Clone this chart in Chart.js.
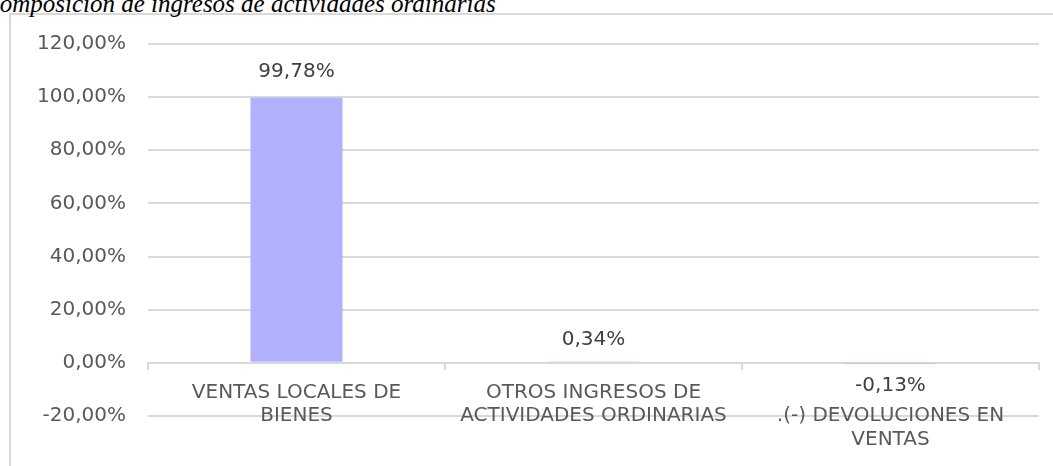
<!DOCTYPE html>
<html>
<head>
<meta charset="utf-8">
<script src="https://cdn.jsdelivr.net/npm/chart.js@4"></script>
<style>
    html, body {
        margin: 0;
        padding: 0;
        background: #ffffff;
        overflow: hidden;
    }
    #frame {
        position: absolute;
        left: 9px;
        top: 13px;
        width: 1100px;
        height: 500px;
        border: 2px solid #d9d9d9;
    }
    #title {
        position: absolute;
        left: -17px;
        top: -11px;
        font-family: 'Liberation Serif', serif;
        font-style: italic;
        font-size: 25px;
        line-height: 30px;
        color: #000000;
        white-space: nowrap;
    }
    #wrap {
        position: absolute;
        left: 0;
        top: 0;
        width: 1053px;
        height: 466px;
    }
</style>
</head>
<body>
<div id="frame"></div>
<div id="title">Composición de ingresos de actividades ordinarias</div>
<div id="wrap"><canvas id="chart"></canvas></div>
<script>
// Chart data
const categories = [
    ['VENTAS LOCALES DE', 'BIENES'],
    ['OTROS INGRESOS DE', 'ACTIVIDADES ORDINARIAS'],
    ['', '.(-) DEVOLUCIONES EN', 'VENTAS']
];
const shares = [99.78, 0.34, -0.13];

// Y axis range (percent)
const Y_MIN = -20;
const Y_MAX = 120;
const Y_STEP = 20;

const BAR_COLOR = '#b1b1ff';
const GRID_COLOR = '#d9d9d9';
const FONT = 'DejaVu Sans';

/**
 * Format a number as Spanish percent, e.g. 99,78%
 */
function pct(v) {
    return v.toFixed(2).replace('.', ',') + '%';
}

/**
 * Draw value labels above / below each bar
 */
const valueLabels = {
    id: 'valueLabels',
    afterDatasetsDraw(chart) {
        const ctx = chart.ctx;
        const meta = chart.getDatasetMeta(0);
        ctx.save();
        ctx.font = `20px "${FONT}"`;
        ctx.fillStyle = '#404040';
        ctx.textAlign = 'center';
        meta.data.forEach((bar, i) => {
            const v = shares[i];
            if (v >= 0) {
                ctx.textBaseline = 'bottom';
                ctx.fillText(pct(v), bar.x, bar.y - (i === 0 ? 16 : 12));
            } else {
                ctx.textBaseline = 'top';
                ctx.fillText(pct(v), bar.x, bar.y + 13);
            }
        });
        ctx.restore();
    }
};

const ctx = document.getElementById('chart').getContext('2d');
new Chart(ctx, {
    type: 'bar',
    data: {
        labels: categories,
        datasets: [{
            data: shares,
            backgroundColor: BAR_COLOR,
            borderWidth: 0,
            categoryPercentage: 1,
            barPercentage: 0.31
        }]
    },
    options: {
        responsive: true,
        maintainAspectRatio: false,
        animation: false,
        layout: {
            padding: { top: 44, right: 14, bottom: 50, left: 0 }
        },
        plugins: {
            legend: { display: false },
            tooltip: { enabled: false }
        },
        scales: {
            x: {
                position: { y: 0 },
                offset: true,
                grid: {
                    offset: true,
                    drawOnChartArea: false,
                    drawTicks: true,
                    tickLength: 6,
                    color: GRID_COLOR,
                    lineWidth: 2
                },
                border: { display: true, color: GRID_COLOR, width: 2 },
                ticks: {
                    color: '#595959',
                    font: { family: FONT, size: 20, lineHeight: 1.17 },
                    padding: 12,
                    maxRotation: 0,
                    autoSkip: false
                }
            },
            y: {
                min: Y_MIN,
                max: Y_MAX,
                afterFit(scale) {
                    scale.width = 148;
                },
                grid: {
                    color: GRID_COLOR,
                    lineWidth: 2,
                    drawTicks: false
                },
                border: { display: false },
                ticks: {
                    stepSize: Y_STEP,
                    color: '#595959',
                    font: { family: FONT, size: 20 },
                    padding: 22,
                    callback: (v) => pct(v)
                }
            }
        }
    },
    plugins: [valueLabels]
});
</script>
</body>
</html>
